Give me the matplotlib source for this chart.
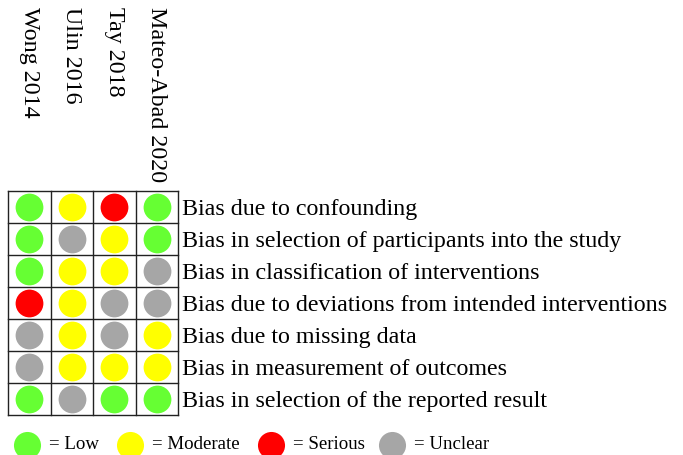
import matplotlib
matplotlib.use('Agg')
import matplotlib.pyplot as plt

# Studies (columns) and bias domains (rows)
studies = ['Wong 2014', 'Ulin 2016', 'Tay 2018', 'Mateo-Abad 2020']
domains = ['Bias due to confounding',
           'Bias in selection of participants into the study',
           'Bias in classification of interventions',
           'Bias due to deviations from intended interventions',
           'Bias due to missing data',
           'Bias in measurement of outcomes',
           'Bias in selection of the reported result']
# judgements per domain, one per study
judgements = [['Low', 'Moderate', 'Serious', 'Low'],
              ['Low', 'Unclear', 'Moderate', 'Low'],
              ['Low', 'Moderate', 'Moderate', 'Unclear'],
              ['Serious', 'Moderate', 'Unclear', 'Unclear'],
              ['Unclear', 'Moderate', 'Unclear', 'Moderate'],
              ['Unclear', 'Moderate', 'Moderate', 'Moderate'],
              ['Low', 'Unclear', 'Low', 'Low']]
levels = ['Low', 'Moderate', 'Serious', 'Unclear']
colors = {'Low': '#66ff33', 'Moderate': '#ffff00',
          'Serious': '#ff0000', 'Unclear': '#a6a6a6'}

plt.rcParams['font.family'] = 'Liberation Serif'

W, H = 683, 456
fig = plt.figure(figsize=(W / 100, H / 100), dpi=100)
# grid axes: left 8px, right 178px, top 192px, bottom 416px
ax = fig.add_axes([8 / W, 1 - 416 / H, 170 / W, 224 / H])
ncol, nrow = len(studies), len(domains)
ax.set_xlim(0, ncol)
ax.set_ylim(nrow, 0)
ax.axis('off')

for i in range(ncol + 1):
    ax.plot([i, i], [0, nrow], color='#222222', lw=1, clip_on=False)
for j in range(nrow + 1):
    ax.plot([0, ncol], [j, j], color='#222222', lw=1, clip_on=False)

for j, row in enumerate(judgements):
    for i, v in enumerate(row):
        ax.scatter(i + 0.5, j + 0.5, s=400, color=colors[v], lw=0, zorder=3)
    ax.text(ncol + 0.1, j + 0.55, domains[j], fontsize=17.3, va='center',
            ha='left', clip_on=False)

# overlay axes in pixel units for column labels and legend
lax = fig.add_axes([0, 0, 1, 1])
lax.set_xlim(0, W)
lax.set_ylim(H, 0)
lax.axis('off')

for i, s in enumerate(studies):
    xc = 8 + (i + 0.5) * 170 / ncol
    lax.text(xc, 7, s, rotation=270, fontsize=17.3, ha='center', va='top')

leg_x = [27, 130, 271, 392]
for x, lv in zip(leg_x, levels):
    lax.scatter(x, 446, s=380, color=colors[lv], lw=0)
    lax.text(x + 22, 445, '= ' + lv, fontsize=13.6, va='center', ha='left')

fig.savefig('out.png', dpi=100)
